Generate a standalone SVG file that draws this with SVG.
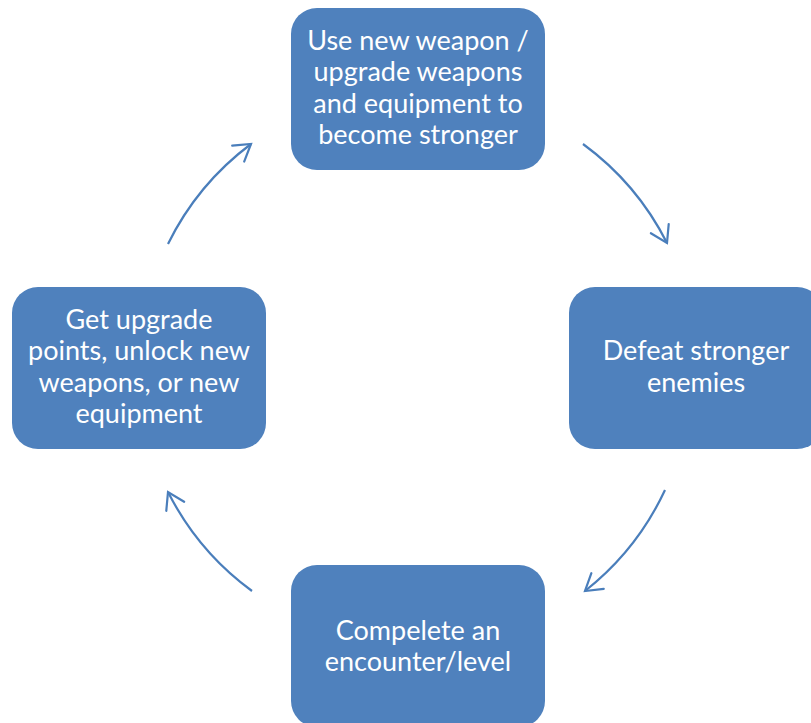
<svg xmlns="http://www.w3.org/2000/svg" width="811" height="723" viewBox="0 0 811 723">
<style>
.node rect{fill:#4F81BD;}
.node text{fill:#FFFFFF;font-family:Lato,"Open Sans",sans-serif;font-size:27px;text-anchor:middle;}
.conn path.arc{fill:none;stroke:#4A7EBB;stroke-width:2.2;marker-end:url(#arrow);}
</style>
<defs>
<marker id="arrow" markerUnits="userSpaceOnUse" viewBox="-20 -20 40 40" markerWidth="40" markerHeight="40" refX="0" refY="0" orient="auto">
<path d="M -16 -10 L 0 0 L -16 10" fill="none" stroke="#4A7EBB" stroke-width="2.2" stroke-linecap="round" stroke-linejoin="miter"/>
</marker>
</defs>
<rect width="811" height="723" fill="#FFFFFF"/>
<g id="connectors" class="conn">
<path class="arc" d="M 583 144 A 278 278 0 0 1 667 243"/>
<path class="arc" d="M 665 490 A 278 278 0 0 1 585 591"/>
<path class="arc" d="M 252 591 A 278 278 0 0 1 168 492"/>
<path class="arc" d="M 168 244 A 278 278 0 0 1 251 144"/>
</g>
<g id="node-top" class="node">
<rect x="291" y="8" width="254" height="162" rx="26"/>
<text x="418" y="50">Use new weapon /</text>
<text x="418" y="81">upgrade weapons</text>
<text x="418" y="113">and equipment to</text>
<text x="418" y="144">become stronger</text>
</g>
<g id="node-right" class="node">
<rect x="569" y="287" width="254" height="162" rx="26"/>
<text x="696" y="360">Defeat stronger</text>
<text x="696" y="392">enemies</text>
</g>
<g id="node-bottom" class="node">
<rect x="291" y="565" width="254" height="162" rx="26"/>
<text x="418" y="640">Compelete an</text>
<text x="418" y="671">encounter/level</text>
</g>
<g id="node-left" class="node">
<rect x="12" y="287" width="254" height="162" rx="26"/>
<text x="139" y="329">Get upgrade</text>
<text x="139" y="360">points, unlock new</text>
<text x="139" y="392">weapons, or new</text>
<text x="139" y="423">equipment</text>
</g>
</svg>
